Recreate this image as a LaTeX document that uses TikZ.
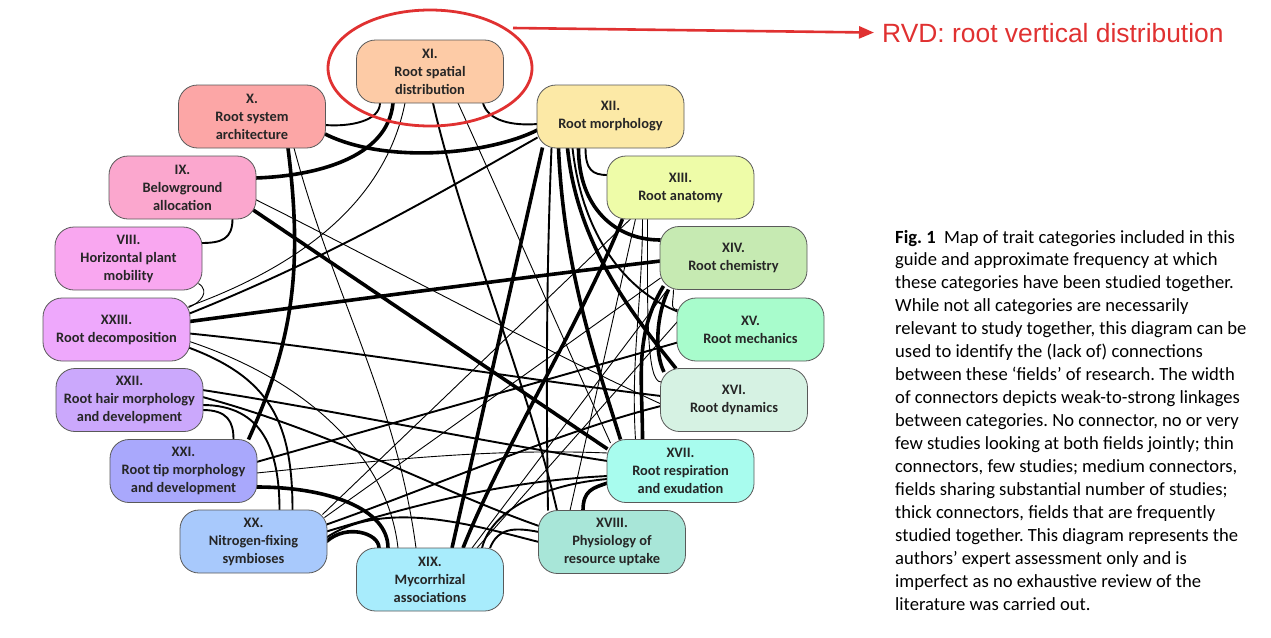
\documentclass[tikz,border=0pt]{standalone}
\usepackage{fontspec}
\setmainfont{Carlito}
\newfontfamily\arialfont{Liberation Sans}
\usetikzlibrary{shapes.geometric,arrows.meta,backgrounds}
\definecolor{cXI}{HTML}{FDCBA6}
\definecolor{cX}{HTML}{FCA6A6}
\definecolor{cIX}{HTML}{FBA7CE}
\definecolor{cVIII}{HTML}{F9A7F0}
\definecolor{cXXIII}{HTML}{EEA8FC}
\definecolor{cXXII}{HTML}{CBA8FC}
\definecolor{cXXI}{HTML}{A9A8FC}
\definecolor{cXX}{HTML}{A8C9FC}
\definecolor{cXIX}{HTML}{A8ECFC}
\definecolor{cXVIII}{HTML}{A8E6D8}
\definecolor{cXVII}{HTML}{A8FCEE}
\definecolor{cXVI}{HTML}{D6F2E3}
\definecolor{cXV}{HTML}{A8FCCC}
\definecolor{cXIV}{HTML}{C6EAB2}
\definecolor{cXIII}{HTML}{EEFCA8}
\definecolor{cXII}{HTML}{FCE9A6}
\definecolor{redc}{HTML}{E03131}
\tikzset{
  cat/.style={draw=black!65, line width=0.8pt, rounded corners=19pt,
    minimum width=147pt, minimum height=63pt, inner sep=0pt, align=center,
    font=\fontsize{14.4}{18}\selectfont\bfseries, text=black!85},
  lkthin/.style={line width=0.9pt},
  lkmed/.style={line width=1.9pt},
  lkthick/.style={line width=3.6pt},
}
\begin{document}
\begin{tikzpicture}[x=1pt,y=-1pt]
\useasboundingbox (0,0) rectangle (1271,637);
\node[cat,fill=cXI] (XI) at (430,71.5) {XI.\\Root spatial\\distribution};
\node[cat,fill=cX] (X) at (252,116.5) {X.\\Root system\\architecture};
\node[cat,fill=cIX] (IX) at (182.5,187.5) {IX.\\Belowground\\allocation};
\node[cat,fill=cVIII] (VIII) at (128.5,258.5) {VIII.\\Horizontal plant\\mobility};
\node[cat,fill=cXXIII] (XXIII) at (116.5,329.5) {XXIII.\\Root decomposition};
\node[cat,fill=cXXII] (XXII) at (129.5,400) {XXII.\\Root hair morphology\\and development};
\node[cat,fill=cXXI] (XXI) at (183.5,471) {XXI.\\Root tip morphology\\and development};
\node[cat,fill=cXX] (XX) at (253.5,541.5) {XX.\\Nitrogen-fixing\\symbioses};
\node[cat,fill=cXIX] (XIX) at (430,579.5) {XIX.\\Mycorrhizal\\associations};
\node[cat,fill=cXVIII] (XVIII) at (612,542) {XVIII.\\Physiology of\\resource uptake};
\node[cat,fill=cXVII] (XVII) at (680.5,471) {XVII.\\Root respiration\\and exudation};
\node[cat,fill=cXVI] (XVI) at (734,400) {XVI.\\Root dynamics};
\node[cat,fill=cXV] (XV) at (750.5,329.5) {XV.\\Root mechanics};
\node[cat,fill=cXIV] (XIV) at (733.5,258) {XIV.\\Root chemistry};
\node[cat,fill=cXIII] (XIII) at (680.5,187.5) {XIII.\\Root anatomy};
\node[cat,fill=cXII] (XII) at (610.5,116.5) {XII.\\Root morphology};

\begin{scope}[on background layer]
\draw[lkmed] ([shift={(-50,31.5)}]XI.center) .. controls +(0,18) and +(25,2) .. ([shift={(73,8.5)}]X.center);
\draw[lkthick] ([shift={(-37,31.5)}]XI.center) .. controls +(-5,55) and +(60,-2) .. ([shift={(73,-9.5)}]IX.center);
\draw[lkthick] ([shift={(73,17.5)}]X.center) .. controls +(60,30) and +(-50,25) .. ([shift={(-73,13.5)}]XII.center);
\draw[lkmed] ([shift={(53,31.5)}]XI.center) .. controls +(5,18) and +(-25,2) .. ([shift={(-73,7.5)}]XII.center);
\draw[lkmed] ([shift={(50,31.5)}]IX.center) .. controls +(0,20) and +(20,0) .. ([shift={(73,-15.5)}]VIII.center);
\draw[lkthin] ([shift={(70,25)}]VIII.center) .. controls +(12,8) and +(12,-5) .. ([shift={(72,-22)}]XXIII.center);
\draw[lkmed] ([shift={(-25,31.5)}]XII.center) .. controls +(0,22) and +(-15,0) .. ([shift={(-73,-12.5)}]XIII.center);
\draw[lkthick] ([shift={(-32,31.5)}]XII.center) .. controls +(0,60) and +(-45,0) .. ([shift={(-73,-18)}]XIV.center);
\draw[lkmed] ([shift={(73,10)}]XXII.center) .. controls +(25,0) and +(0,-18) .. ([shift={(50,-31.5)}]XXI.center);
\draw[lkthick] ([shift={(73,16)}]XXI.center) .. controls +(70,0) and +(0,-40) .. ([shift={(-42,-31.5)}]XIX.center);
\draw[lkthick] ([shift={(73,0)}]XX.center) .. controls +(20,-18) and +(0,-15) .. ([shift={(-51,-31.5)}]XIX.center);
\draw[lkthick] ([shift={(-29,-31.5)}]XVIII.center) .. controls +(0,-20) and +(-15,5) .. ([shift={(-73,12)}]XVII.center);
\draw[lkmed] ([shift={(73,5)}]XXII.center) .. controls +(60,0) and +(0,-60) .. ([shift={(26,-31.5)}]XX.center);
\draw[lkmed] ([shift={(72,18)}]XXIII.center) .. controls +(80,30) and +(0,-90) .. ([shift={(39,-31.5)}]XX.center);
\draw[lkthin] ([shift={(73,12)}]XXIII.center) .. controls +(120,40) and +(-10,-90) .. ([shift={(-32,-31.5)}]XIX.center);
\draw[lkthin] ([shift={(42,31.5)}]X.center) .. controls +(40,150) and +(-20,-150) .. ([shift={(-14,-31.5)}]XIX.center);
\draw[lkthick] ([shift={(36,31.5)}]X.center) .. controls +(15,120) and +(45,-100) .. ([shift={(65,-31.5)}]XXI.center);
\draw[lkthin] ([shift={(-25,31.5)}]XI.center) .. controls +(-20,100) and +(110,-40) .. ([shift={(72,-23)}]XXIII.center);
\draw[lkmed] ([shift={(73,-16)}]XXIII.center) .. controls +(150,-60) and +(-80,45) .. ([shift={(-73,21)}]XII.center);
\draw[lkthick] ([shift={(73,-8)}]XXIII.center) .. controls +(150,-20) and +(-150,18) .. ([shift={(-73,3)}]XIV.center);
\draw[lkmed] ([shift={(73,4)}]XXIII.center) .. controls +(150,15) and +(-150,-18) .. ([shift={(-73,-4)}]XVI.center);
\draw[lkmed] ([shift={(73,-10)}]XXII.center) .. controls +(130,20) and +(-130,-20) .. ([shift={(-73,-10)}]XVII.center);
\draw[lkmed] ([shift={(73,-3)}]XXII.center) .. controls +(130,35) and +(-100,-35) .. ([shift={(-73,-16)}]XVIII.center);
\draw[lkmed] ([shift={(73,-9)}]XXI.center) .. controls +(140,-40) and +(-140,40) .. ([shift={(-73,13)}]XV.center);
\draw[lkthin] ([shift={(73,2)}]XXI.center) .. controls +(120,-12) and +(-120,-5) .. ([shift={(-73,-18)}]XVII.center);
\draw[lkthin] ([shift={(73,12)}]IX.center) .. controls +(130,65) and +(-130,-60) .. ([shift={(-73,4)}]XVI.center);
\draw[lkthick] ([shift={(70,22)}]IX.center) -- ([shift={(-73,-22)}]XVII.center);
\draw[lkmed] ([shift={(3,31.5)}]XI.center) .. controls +(30,130) and +(-30,-130) .. ([shift={(-55,-31.5)}]XVIII.center);
\draw[lkthin] ([shift={(28,31.5)}]XI.center) .. controls +(50,110) and +(-50,-110) .. ([shift={(-70,-28)}]XVII.center);
\draw[lkthick] ([shift={(-68,31)}]XII.center) -- ([shift={(22,-31.5)}]XIX.center);
\draw[lkmed] ([shift={(-59,31.5)}]XII.center) .. controls +(-5,120) and +(-2,-120) .. ([shift={(-64,-31.5)}]XVIII.center);
\draw[lkthick] ([shift={(-52,31.5)}]XII.center) .. controls +(5,120) and +(-25,-80) .. ([shift={(-60,-31.5)}]XVII.center);
\draw[lkthick] ([shift={(-43,31.5)}]XII.center) .. controls +(10,100) and +(-40,-50) .. ([shift={(-58,-31.5)}]XVI.center);
\draw[lkmed] ([shift={(-38,31.5)}]XII.center) .. controls +(10,90) and +(-50,-20) .. ([shift={(-73,-18)}]XV.center);
\draw[lkthick] ([shift={(-58,31.5)}]XIII.center) .. controls +(-40,100) and +(40,-100) .. ([shift={(33,-31.5)}]XIX.center);
\draw[lkthin] ([shift={(-50,31.5)}]XIII.center) -- ([shift={(69,-27)}]XX.center);
\draw[lkthin] ([shift={(-45,31.5)}]XIII.center) -- ([shift={(-42,-31.5)}]XVIII.center);
\draw[lkthin] ([shift={(-38,31.5)}]XIII.center) .. controls +(0,80) and +(-5,-80) .. ([shift={(-45,-31.5)}]XVII.center);
\draw[lkthin] ([shift={(-33,31.5)}]XIII.center) .. controls +(0,90) and +(-15,0) .. ([shift={(-73,-18)}]XVI.center);
\draw[lkthick] ([shift={(-70,28)}]XIV.center) .. controls +(-30,50) and +(0,-60) .. ([shift={(-38,-31.5)}]XVII.center);
\draw[lkthick] ([shift={(-65,31.5)}]XIV.center) .. controls +(-12,25) and +(-10,-20) .. ([shift={(-70,-28)}]XVI.center);
\draw[lkthin] ([shift={(-60,31.5)}]XIV.center) .. controls +(0,12) and +(-8,0) .. ([shift={(-73,-20)}]XV.center);
\draw[lkthin] ([shift={(71,-24)}]XX.center) -- ([shift={(-73,20)}]XIV.center);
\draw[lkmed] ([shift={(73,-17)}]XX.center) .. controls +(100,-35) and +(-100,25) .. ([shift={(-73,6)}]XVI.center);
\draw[lkmed] ([shift={(73,-10)}]XX.center) .. controls +(100,-30) and +(-100,5) .. ([shift={(-73,5)}]XVII.center);
\draw[lkmed] ([shift={(73,-4)}]XX.center) .. controls +(60,-40) and +(-60,-15) .. ([shift={(-73,0)}]XVIII.center);
\draw[lkthin] ([shift={(42,-31.5)}]XIX.center) -- ([shift={(-66,31.5)}]XIV.center);
\draw[lkmed] ([shift={(52,-31.5)}]XIX.center) .. controls +(10,-40) and +(-60,5) .. ([shift={(-73,8)}]XVII.center);
\draw[lkmed] ([shift={(60,-31.5)}]XIX.center) .. controls +(8,-20) and +(-25,-5) .. ([shift={(-73,-10)}]XVIII.center);
\draw[lkthin] ([shift={(-73,-8)}]XV.center) -- ([shift={(47,-31.5)}]XIX.center);
\end{scope}

\node[ellipse, draw=redc, line width=2.8pt, minimum width=204pt, minimum height=116pt, inner sep=0pt] (ring) at (430,68) {};
\coordinate (arrS) at (513,28);
\node[anchor=base west, inner sep=0pt, text=redc, font=\arialfont\fontsize{26.4}{30}\selectfont] (rvd) at (882,42) {RVD: root vertical distribution};
\draw[redc, line width=2.6pt, -{Triangle[length=15pt,width=12pt]}] (arrS) -- ([xshift=-8pt]rvd.west);

\node[anchor=base west, inner sep=0pt] (cap) at (895,243) {\begin{minipage}[t]{400pt}\fontsize{18.6}{22.94}\selectfont\raggedright\frenchspacing
\textbf{Fig. 1}\hspace{0.45em}Map of trait categories included in this\\
guide and approximate frequency at which\\
these categories have been studied together.\\
While not all categories are necessarily\\
relevant to study together, this diagram can be\\
used to identify the (lack of) connections\\
between these ‘fields’ of research. The width\\
of connectors depicts weak-to-strong linkages\\
between categories. No connector, no or very\\
few studies looking at both fields jointly; thin\\
connectors, few studies; medium connectors,\\
fields sharing substantial number of studies;\\
thick connectors, fields that are frequently\\
studied together. This diagram represents the\\
authors’ expert assessment only and is\\
imperfect as no exhaustive review of the\\
literature was carried out.
\end{minipage}};
\end{tikzpicture}
\end{document}
